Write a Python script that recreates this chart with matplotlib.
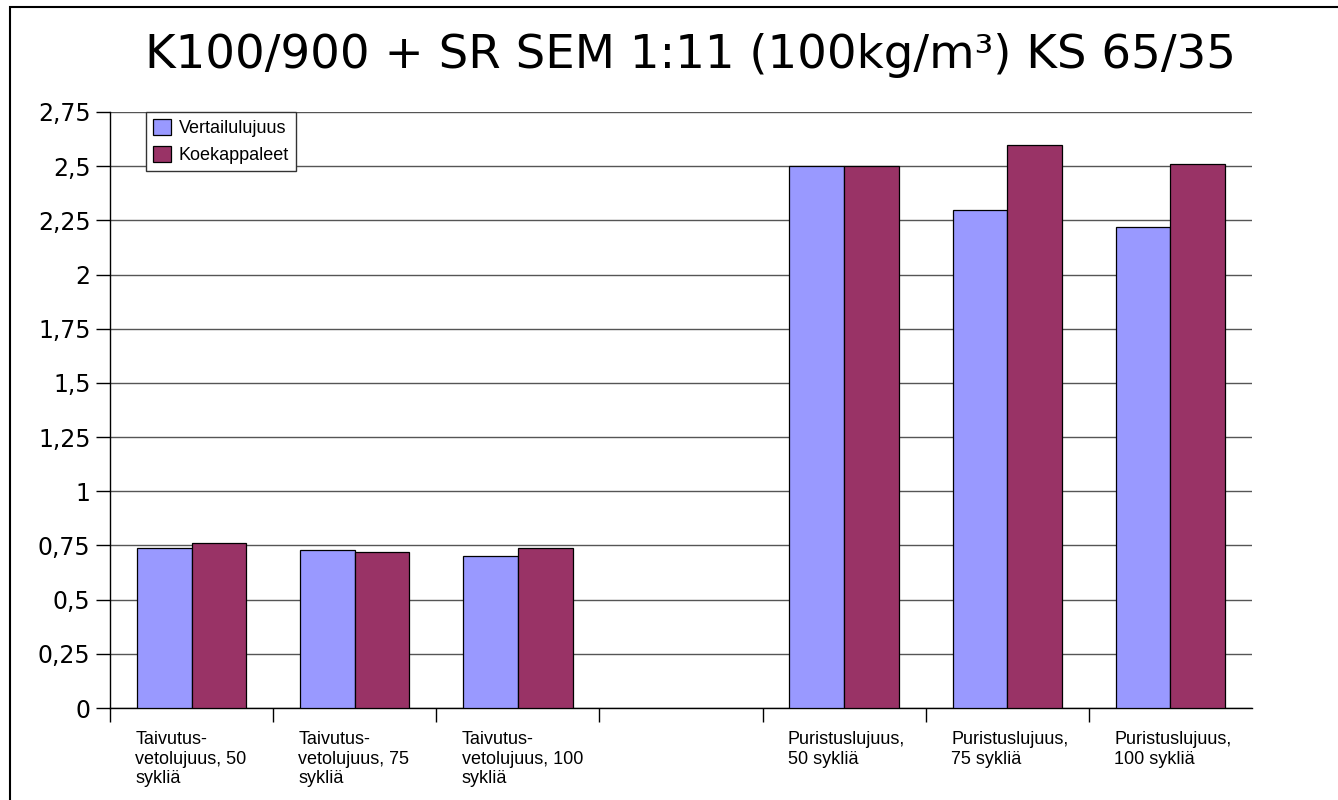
import matplotlib
matplotlib.use("Agg")
import matplotlib.pyplot as plt
import matplotlib.patches as mpatches
from matplotlib.ticker import FixedLocator, NullFormatter
import numpy as np

title = "K100/900 + SR SEM 1:11 (100kg/m³) KS 65/35"
categories = [
    "Taivutus-\nvetolujuus, 50\nsykliä",
    "Taivutus-\nvetolujuus, 75\nsykliä",
    "Taivutus-\nvetolujuus, 100\nsykliä",
    "",
    "Puristuslujuus,\n50 sykliä",
    "Puristuslujuus,\n75 sykliä",
    "Puristuslujuus,\n100 sykliä",
]
series_names = ["Vertailulujuus", "Koekappaleet"]
vertailu = [0.74, 0.73, 0.70, np.nan, 2.50, 2.30, 2.22]
koekappaleet = [0.76, 0.72, 0.74, np.nan, 2.50, 2.60, 2.51]
y_ticks = [0, 0.25, 0.5, 0.75, 1, 1.25, 1.5, 1.75, 2, 2.25, 2.5, 2.75]
y_ticklabels = ["0", "0,25", "0,5", "0,75", "1", "1,25", "1,5", "1,75", "2", "2,25", "2,5", "2,75"]

colors = ["#9999FF", "#993366"]

fig = plt.figure(figsize=(13.38, 8), dpi=100)
ax = fig.add_axes([110/1338, 1-708/800, (1252-110)/1338, (708-112)/800])

x = np.arange(len(categories))
w = 0.335
ax.bar(x - w/2, vertailu, width=w, color=colors[0], edgecolor="black", linewidth=0.9, label=series_names[0], zorder=3)
ax.bar(x + w/2, koekappaleet, width=w, color=colors[1], edgecolor="black", linewidth=0.9, label=series_names[1], zorder=3)

ax.set_xlim(-0.5, len(categories) - 0.5)
ax.set_ylim(0, 2.75)
ax.set_yticks(y_ticks)
ax.set_yticklabels(y_ticklabels, fontsize=17, family="DejaVu Sans")
ax.yaxis.grid(True, color="#555555", linewidth=1.0, zorder=0)
ax.tick_params(axis="y", length=10, width=1, pad=4, color="black")

# category boundary ticks
ax.xaxis.set_major_locator(FixedLocator(list(np.arange(len(categories)) - 0.5)))
ax.xaxis.set_major_formatter(NullFormatter())
ax.tick_params(axis="x", length=10, width=1, direction="out", color="black")

for i, lab in enumerate(categories):
    ax.text(i - w - 0.01, -23/596, lab, transform=ax.get_xaxis_transform(), ha="left", va="top",
            fontsize=13.0, family="Liberation Sans", linespacing=1.2)

for s in ["top", "right"]:
    ax.spines[s].set_visible(False)
ax.spines["left"].set_color("black")
ax.spines["bottom"].set_color("black")
ax.spines["left"].set_linewidth(1.0)
ax.spines["bottom"].set_linewidth(1.0)

leg = ax.legend(loc="upper left", bbox_to_anchor=((146-110)/1142, 1.0), borderaxespad=0,
                frameon=True, fancybox=False, edgecolor="#333333", framealpha=1,
                prop={"family": "Liberation Sans", "size": 13}, handlelength=1.0,
                handleheight=1.0, handletextpad=0.4, borderpad=0.4, labelspacing=0.45)
leg.get_frame().set_linewidth(1.0)

fig.text(690/1338, 1-55/800, title, ha="center", va="center", fontsize=33.6, family="DejaVu Sans")

frame = mpatches.Rectangle((10/1338, -0.1), 1.2, 1.1 - 7/800, transform=fig.transFigure,
                           fill=False, edgecolor="black", linewidth=1.5, clip_on=False)
fig.patches.append(frame)

fig.savefig("out.png", dpi=100)
